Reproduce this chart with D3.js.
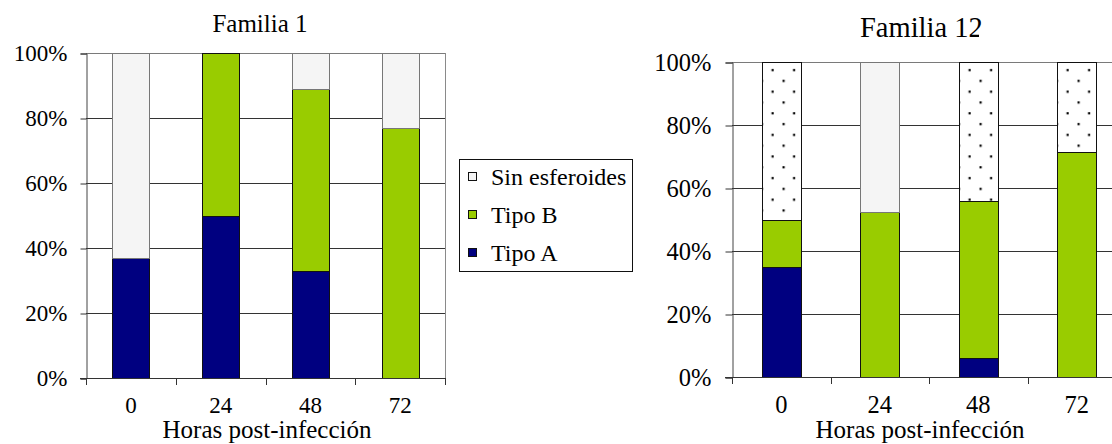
<!DOCTYPE html>
<html>
<head>
<meta charset="utf-8">
<script src="https://cdn.jsdelivr.net/npm/d3@7"></script>
<style>
  html, body { margin: 0; padding: 0; background: #fff; }
  svg { display: block; }
</style>
</head>
<body>
<svg id="chart" width="1112" height="444"></svg>
<script>
// ---- Data ----
const categories = ["0", "24", "48", "72"];
const seriesNames = ["Tipo A", "Tipo B", "Sin esferoides"];
const legendOrder = ["Sin esferoides", "Tipo B", "Tipo A"];
const yTicks = [0, 0.2, 0.4, 0.6, 0.8, 1.0];

// Familia 1
const f1TipoA = [0.37, 0.50, 0.33, 0.00];
const f1TipoB = [0.00, 0.50, 0.56, 0.77];
const f1Sin   = [0.63, 0.00, 0.11, 0.23];

// Familia 12 (dotted segment is an extra series not shown in the legend)
const f12TipoA   = [0.35, 0.00, 0.06, 0.00];
const f12TipoB   = [0.15, 0.525, 0.50, 0.715];
const f12Sin     = [0.00, 0.475, 0.00, 0.00];
const f12Dotted  = [0.50, 0.00, 0.44, 0.285];

const titles = ["Familia 1", "Familia 12"];
const xLabel = "Horas post-infección";

const FONT = "'Liberation Serif', Tinos, 'Times New Roman', serif";
const colors = { "Tipo A": "#000080", "Tipo B": "#99cc00", "Sin esferoides": "#f5f5f5" };

const svg = d3.select("#chart");
svg.append("rect").attr("width", 1112).attr("height", 444).attr("fill", "#fff");
const defs = svg.append("defs");

function styleText(sel, size) {
  return sel.style("font-family", FONT).style("font-size", size + "px").style("fill", "#000");
}

function buildRows(a, b, s, dots) {
  return categories.map((c, i) => {
    const r = { cat: c, "Tipo A": a[i], "Tipo B": b[i], "Sin esferoides": s[i] };
    if (dots) r["Punteado"] = dots[i];
    return r;
  });
}

function drawChart(cfg) {
  const g = svg.append("g");
  const x = d3.scaleBand().domain(categories).range([cfg.x0, cfg.x1])
    .paddingInner(cfg.pad).paddingOuter(cfg.pad / 2);
  const y = d3.scaleLinear().domain([0, 1]).range([cfg.y0, cfg.y1]);
  const step = x.step();

  // gridlines
  g.append("g").selectAll("line").data(yTicks.filter(d => d > 0)).join("line")
    .attr("x1", cfg.x0).attr("x2", cfg.gridEnd)
    .attr("y1", d => Math.round(y(d)) + 0.5).attr("y2", d => Math.round(y(d)) + 0.5)
    .attr("stroke", d => d === 1 ? "#7a7a7a" : "#333").attr("stroke-width", 1);

  if (cfg.rightBorder) {
    g.append("line").attr("x1", cfg.x1 + 0.5).attr("x2", cfg.x1 + 0.5)
      .attr("y1", y(1)).attr("y2", y(0)).attr("stroke", "#8a8a8a");
  }

  // stacked bars
  const stack = d3.stack().keys(cfg.keys)(cfg.rows);
  stack.forEach(layer => {
    const key = layer.key;
    layer.forEach((seg, i) => {
      const h = y(seg[0]) - y(seg[1]);
      if (h <= 0.01) return;
      let fill = colors[key];
      if (key === "Punteado") {
        const pid = cfg.id + "-dots-" + i;
        const bx = Math.round(x(categories[i]));
        const p = defs.append("pattern").attr("id", pid)
          .attr("patternUnits", "userSpaceOnUse")
          .attr("x", bx).attr("y", y(1)).attr("width", 21.5).attr("height", 21.6);
        p.append("rect").attr("width", 21.5).attr("height", 21.6).attr("fill", "#fff");
        p.append("rect").attr("x", 9.5).attr("y", 7).attr("width", 2.2).attr("height", 2.2).attr("fill", "#000");
        p.append("rect").attr("x", -1).attr("y", 17.8).attr("width", 2.2).attr("height", 2.2).attr("fill", "#000");
        p.append("rect").attr("x", 20.5).attr("y", 17.8).attr("width", 2.2).attr("height", 2.2).attr("fill", "#000");
        fill = "url(#" + pid + ")";
      }
      g.append("rect")
        .attr("x", Math.round(x(categories[i])) + 0.5)
        .attr("y", Math.round(y(seg[1])) + 0.5)
        .attr("width", Math.round(x.bandwidth()))
        .attr("height", Math.round(y(seg[0])) - Math.round(y(seg[1])))
        .attr("fill", fill)
        .attr("stroke", key === "Sin esferoides" ? "#777" : "#111")
        .attr("stroke-width", 1);
    });
  });

  // y axis
  const yAxis = d3.axisLeft(y).tickValues(yTicks).tickFormat(d3.format(".0%"))
    .tickSize(cfg.tick).tickPadding(cfg.tickPad);
  const ya = g.append("g").attr("transform", `translate(${cfg.x0 + 0.5},0.5)`).call(yAxis);
  ya.attr("font-family", null).attr("font-size", null);
  ya.select(".domain").attr("stroke", "#444");
  ya.selectAll(".tick line").attr("stroke", "#333");
  styleText(ya.selectAll("text"), cfg.tickFont);

  // x axis line
  g.append("line").attr("x1", cfg.x0 - cfg.tick).attr("x2", cfg.gridEnd)
    .attr("y1", Math.round(y(0)) + 0.5).attr("y2", Math.round(y(0)) + 0.5)
    .attr("stroke", "#333");
  const bounds = d3.range(categories.length + 1).map(i => cfg.x0 + i * step);
  g.append("g").selectAll("line").data(bounds).join("line")
    .attr("x1", d => Math.round(d) + 0.5).attr("x2", d => Math.round(d) + 0.5)
    .attr("y1", Math.round(y(0))).attr("y2", Math.round(y(0)) + 7)
    .attr("stroke", "#333");
  styleText(g.append("g").selectAll("text").data(categories).join("text")
    .attr("x", d => x(d) + x.bandwidth() / 2).attr("y", 413)
    .attr("text-anchor", "middle").text(d => d), cfg.tickFont);
  styleText(g.append("text").attr("x", cfg.xlabX).attr("y", 438).attr("text-anchor", "middle")
    .text(xLabel), cfg.labelFont);

  // title
  const t = styleText(g.append("text").attr("x", cfg.titleX).attr("y", cfg.titleY)
    .attr("text-anchor", cfg.titleAnchor).text(cfg.title), cfg.titleFont);
  if (cfg.titleClip) {
    const cp = defs.append("clipPath").attr("id", cfg.id + "-tclip");
    cp.append("rect").attr("x", 0).attr("y", 0).attr("width", 1112).attr("height", 28);
    cp.append("rect").attr("x", 0).attr("y", 0).attr("width", cfg.titleClip).attr("height", 60);
    t.attr("clip-path", `url(#${cfg.id}-tclip)`);
  }
}

drawChart({
  id: "f1", rows: buildRows(f1TipoA, f1TipoB, f1Sin, null),
  keys: ["Tipo A", "Tipo B", "Sin esferoides"],
  x0: 86, x1: 445, gridEnd: 445, y0: 378, y1: 53, pad: 0.588,
  tick: 6, tickPad: 13, tickFont: 23, labelFont: 25,
  xlabX: 267, title: titles[0], titleX: 260, titleY: 32, titleAnchor: "middle", titleFont: 25,
  rightBorder: true
});

drawChart({
  id: "f12", rows: buildRows(f12TipoA, f12TipoB, f12Sin, f12Dotted),
  keys: ["Tipo A", "Tipo B", "Sin esferoides", "Punteado"],
  x0: 732, x1: 1126, gridEnd: 1112, y0: 377, y1: 62, pad: 0.609,
  tick: 7, tickPad: 14, tickFont: 24.5, labelFont: 25,
  xlabX: 920, title: titles[1], titleX: 860, titleY: 37, titleAnchor: "start", titleFont: 28.5,
  titleClip: 979, rightBorder: false
});

// Legend
const lg = svg.append("g");
lg.append("rect").attr("x", 459.5).attr("y", 159.5).attr("width", 173).attr("height", 112)
  .attr("fill", "#fff").attr("stroke", "#111");
const ly = d3.scalePoint().domain(legendOrder).range([185, 261]);
legendOrder.forEach(k => {
  lg.append("rect").attr("x", 468.5).attr("y", ly(k) - 12.5).attr("width", 8).attr("height", 8)
    .attr("fill", colors[k]).attr("stroke", "#111");
  styleText(lg.append("text").attr("x", 491).attr("y", ly(k)).text(k), 24);
});
</script>
</body>
</html>
